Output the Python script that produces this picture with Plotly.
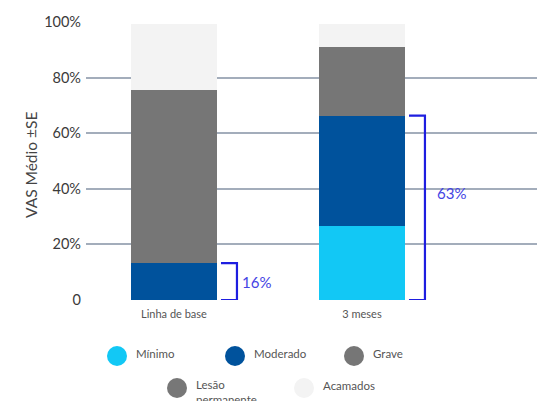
import plotly.graph_objects as go

# ---- data -------------------------------------------------------------
categories = ["Linha de base", "3 meses"]
series_names = ["Mínimo", "Moderado", "Grave", "Lesão permanente", "Acamados"]
minimo = [0.0, 26.6]
moderado = [13.3, 39.7]
grave = [62.2, 24.7]
lesao_permanente = [0.0, 0.0]
acamados = [23.8, 8.3]
bracket_labels = ["16%", "63%"]
y_tick_values = [0, 20, 40, 60, 80, 100]
y_tick_labels = ["0", "20%", "40%", "60%", "80%", "100%"]

series_values = [minimo, moderado, grave, lesao_permanente, acamados]
colors = ["#12C8F5", "#00529C", "#767676", "#777777", "#F3F3F3"]

W, H = 537, 401
FONT = "Lato, 'Open Sans', sans-serif"
BRACKET = "#1E1EE0"

x_pos = list(range(len(categories)))

fig = go.Figure()

# stacked bars
for name, vals, col in zip(series_names, series_values, colors):
    fig.add_trace(go.Bar(
        x=x_pos, y=vals, name=name, width=0.457,
        marker=dict(color=col, line=dict(width=0)),
        showlegend=False, xaxis="x", yaxis="y",
    ))

# brackets spanning the Mínimo + Moderado part of each bar
for i in x_pos:
    top = minimo[i] + moderado[i]
    fig.add_trace(go.Scatter(
        x=[i + 0.25, i + 0.335, i + 0.335, i + 0.25],
        y=[top, top, 0, 0],
        mode="lines", line=dict(color=BRACKET, width=2.2),
        showlegend=False, hoverinfo="skip", xaxis="x", yaxis="y",
    ))

label_y = [6.6, 38.6]
for i, txt in enumerate(bracket_labels):
    fig.add_annotation(
        x=i + 0.335, y=label_y[i], xref="x", yref="y",
        text=txt, showarrow=False, xanchor="left", yanchor="middle",
        xshift=3 if i == 0 else 10,
        font=dict(family=FONT, size=15, color="#4444E4"),
    )

# legend drawn on its own pixel-scaled axis pair at the bottom
legend_x = [117, 235, 354, 177, 304]
legend_y = [356, 356, 356, 388, 388]
legend_text = ["Mínimo", "Moderado", "Grave", "Lesão<br>permanente", "Acamados"]
text_y = [355, 355, 355, 394, 387]
fig.add_trace(go.Scatter(
    x=legend_x, y=legend_y, mode="markers",
    marker=dict(size=20, color=colors, line=dict(width=0)),
    showlegend=False, hoverinfo="skip", xaxis="x2", yaxis="y2",
    cliponaxis=False,
))
fig.add_trace(go.Scatter(
    x=[lx + 19 for lx in legend_x], y=text_y, mode="text",
    text=legend_text, textposition="middle right",
    textfont=dict(family=FONT, size=11.5, color="#555555"),
    showlegend=False, hoverinfo="skip", xaxis="x2", yaxis="y2",
    cliponaxis=False,
))

fig.add_annotation(
    x=20 / W, y=(H - 165) / H, xref="paper", yref="paper",
    text="VAS Médio ±SE", textangle=-90, showarrow=False,
    font=dict(family=FONT, size=15.5, color="#444444"),
)

fig.update_layout(
    width=W, height=H,
    margin=dict(l=0, r=0, t=0, b=0, pad=0, autoexpand=False),
    paper_bgcolor="white", plot_bgcolor="white",
    barmode="stack",
    xaxis=dict(
        domain=[86 / W, 1], range=[-0.468, 1.931], automargin=False,
        tickmode="array", tickvals=x_pos, ticktext=categories,
        showgrid=False, zeroline=False, showline=False, ticks="",
        tickfont=dict(family=FONT, size=11, color="#555555"),
        ticklabelstandoff=6,
    ),
    yaxis=dict(
        domain=[(H - 300) / H, (H - 22) / H], range=[0, 100], automargin=False,
        tickmode="array", tickvals=y_tick_values, ticktext=y_tick_labels,
        showgrid=True, gridcolor="#A3ADBB", gridwidth=1.5,
        zeroline=False, showline=False, ticks="",
        tickfont=dict(family=FONT, size=14.5, color="#3A3A3A"),
        ticklabelstandoff=4,
    ),
    xaxis2=dict(domain=[0, 1], range=[0, W], visible=False, anchor="y2",
                automargin=False),
    yaxis2=dict(domain=[0, (H - 330) / H], range=[H, 330], visible=False,
                anchor="x2", automargin=False),
    showlegend=False,
)

fig.write_html("out.html")
